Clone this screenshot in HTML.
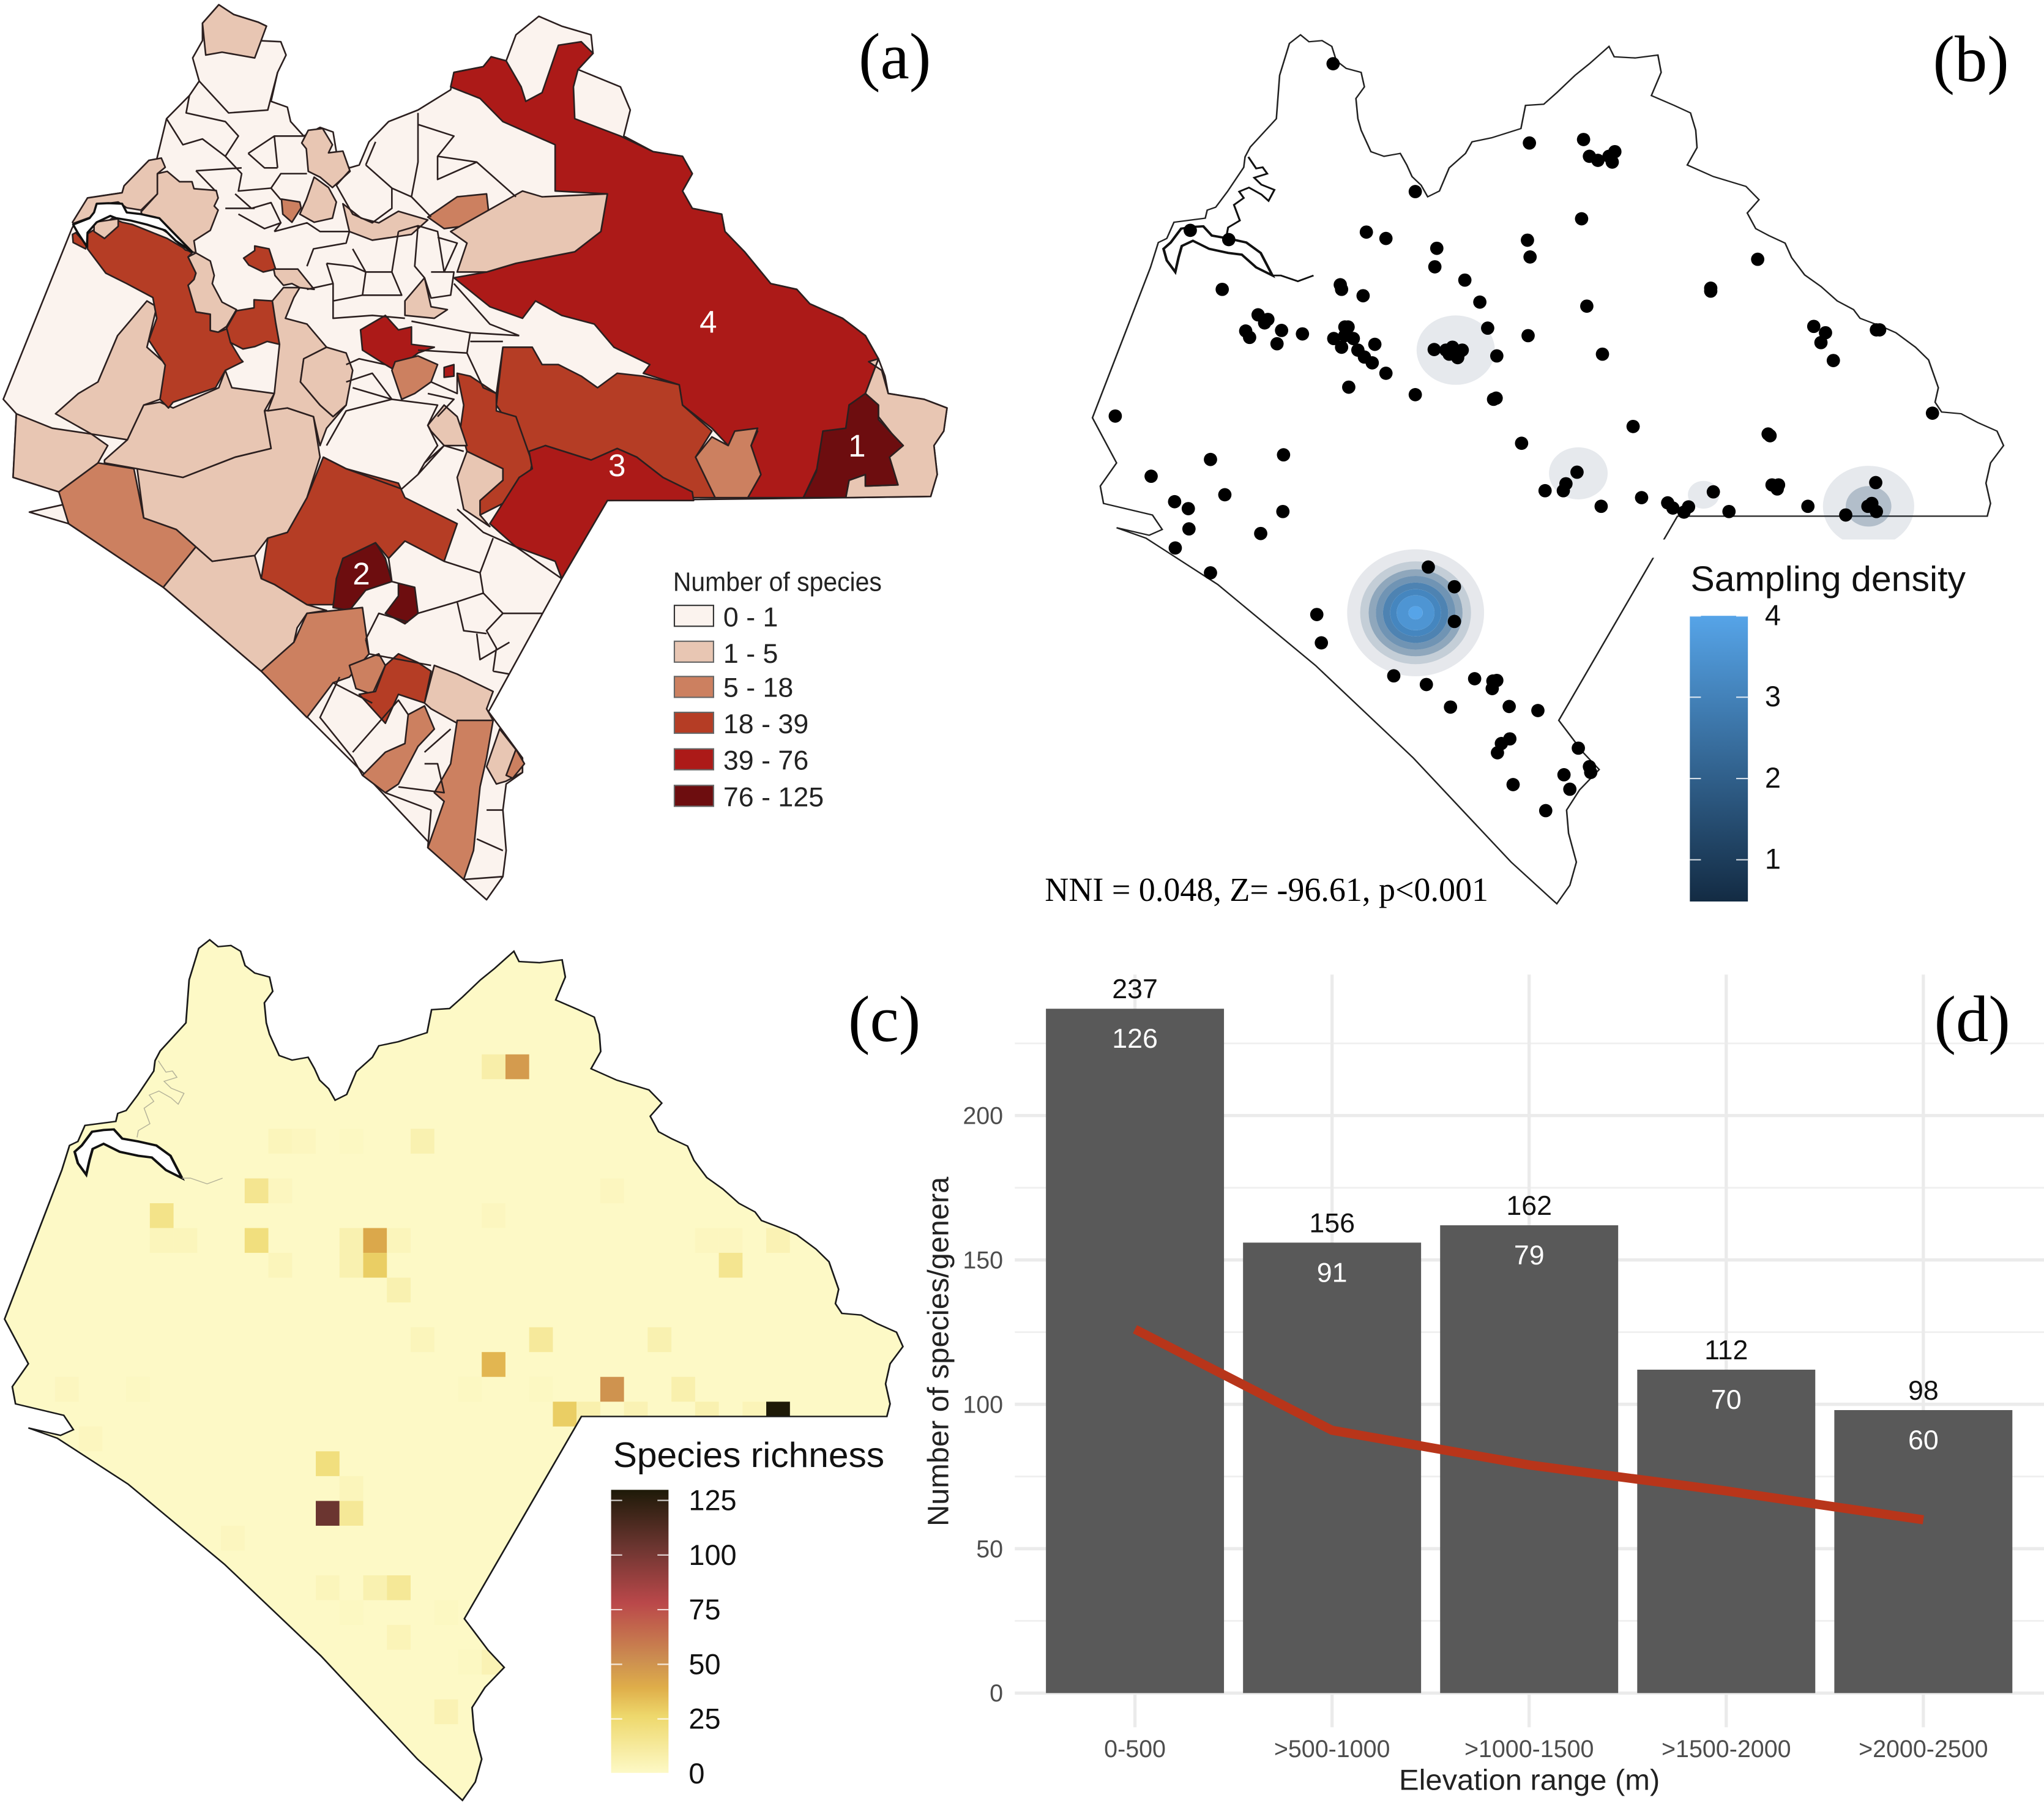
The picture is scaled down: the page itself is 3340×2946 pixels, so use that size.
<!DOCTYPE html>
<html lang="en">
<head>
<meta charset="utf-8">
<title>Species sampling maps and elevation chart</title>
<style>
html,body{margin:0;padding:0;background:#fff;width:3340px;height:2946px;overflow:hidden}
svg{display:block}
text{font-family:"Liberation Sans",sans-serif}
.serif{font-family:"Liberation Serif",serif;fill:#000}
.m polygon,.m path{stroke:#2b1f1f;stroke-width:2.6;vector-effect:non-scaling-stroke;stroke-linejoin:round}
.c0{fill:#fbf3ee}.c1{fill:#e8c6b3}.c2{fill:#cc8060}.c3{fill:#b53d25}.c4{fill:#ac1a18}.c5{fill:#6d0d0f}
</style>
</head>
<body>
<svg xmlns="http://www.w3.org/2000/svg" width="3340" height="2946" viewBox="0 0 1567 1382">
<defs>
<path id="state" d="M427,60 L440,72 L460,70 L475,80 L482,105 L497,118 L520,125 L525,150 L512,170 L515,205 L520,225 L535,262 L555,270 L580,265 L590,285 L598,305 L612,320 L622,340 L640,330 L655,290 L680,265 L690,245 L720,238 L765,222 L772,182 L800,180 L820,160 L848,130 L870,110 L900,80 L908,98 L940,100 L975,95 L980,125 L965,165 L1000,182 L1025,195 L1033,225 L1035,255 L1020,285 L1060,305 L1110,322 L1130,345 L1112,368 L1125,395 L1145,407 L1170,420 L1180,445 L1200,475 L1225,495 L1250,520 L1275,535 L1285,550 L1320,565 L1340,575 L1370,600 L1390,622 L1405,670 L1400,695 L1410,712 L1440,715 L1465,730 L1495,745 L1505,770 L1485,800 L1478,835 L1485,870 L1480,892 L1005,892 L823,1245 L860,1300 L885,1330 L855,1365 L835,1400 L838,1440 L850,1490 L840,1530 L820,1562 L750,1490 L600,1310 L450,1150 L300,1010 L190,930 L145,912 L195,925 L215,915 L200,890 L125,870 L120,840 L145,800 L108,722 L197,462 L209,419 L222,412 L233,384 L281,377 L284,363 L297,358 L315,331 L340,289 L342,271 L350,254 L390,205 L395,130 L410,75 Z"/>
<path id="lagoon-band" d="M244,395 L262,392 L278,391 L291,407 L316,412 L344,419 L366,437 L384,476 L359,462 L337,440 L316,437 L287,430 L262,416 L245,425 L240,445 L235,470 L222,450 L217,430 L228,419 Z"/>
<path id="lagoon-upper" d="M347,271 L359,291 L369,289 L376,300 L356,307 L367,319 L387,328 L378,347 L367,336 L348,324 L333,331 L340,342 L325,354 L334,381 L316,393 L314,405 M384,476 L397,476 L423,486 L447,476"/>
<clipPath id="state-clip"><use href="#state" transform="translate(-49.74,694) scale(.493,.4392)"/></clipPath>
<linearGradient id="density-gradient" x1="0" y1="1" x2="0" y2="0">
<stop offset="0" stop-color="#132b43"/><stop offset="1" stop-color="#56a4e8"/>
</linearGradient>
<linearGradient id="richness-gradient" x1="0" y1="1" x2="0" y2="0">
<stop offset="0" stop-color="#fdf9c6"/><stop offset=".2" stop-color="#eed86c"/><stop offset=".3" stop-color="#dfae4a"/><stop offset=".4" stop-color="#cc8e50"/><stop offset=".6" stop-color="#ba484a"/><stop offset=".8" stop-color="#6b3530"/><stop offset="1" stop-color="#1e1a08"/>
</linearGradient>
</defs>
<rect width="1567" height="1382" fill="#fff"/>

<!-- PANEL A -->
<g class="m" transform="scale(.5007,.4435)">
<polygon class="c0" points="335,8 358,25 395,38 408,45 395,70 430,72 438,95 425,125 420,150 415,175 440,185 445,210 465,235 490,220 510,228 515,262 535,290 550,285 565,245 595,210 640,190 690,155 695,125 740,115 752,98 775,105 790,60 825,28 860,45 905,60 908,92 885,120 950,150 965,190 955,235 1000,262 1045,270 1060,300 1045,330 1060,360 1105,370 1110,400 1140,435 1180,490 1220,500 1240,525 1290,550 1325,580 1345,620 1355,650 1360,680 1415,690 1450,705 1445,745 1430,770 1435,820 1425,858 1300,860 930,865 860,1000 748,1230 800,1310 800,1335 775,1355 770,1400 775,1470 770,1515 745,1555 710,1520 560,1340 400,1160 250,1015 105,905 45,885 105,870 90,850 20,825 25,715 5,690 110,395 134,342 187,333 190,321 228,277 240,275 255,205 290,165 305,140 295,100 310,70 310,40"/>
<polygon class="c4" points="690,150 695,125 740,115 752,98 775,105 798,150 805,175 830,160 855,78 890,72 908,92 885,120 878,150 880,205 950,235 1000,262 1045,270 1060,300 1045,330 1060,360 1105,370 1110,400 1140,435 1180,490 1220,500 1240,525 1290,550 1325,580 1345,620 1325,680 1300,700 1300,740 1260,745 1255,800 1230,860 1145,860 1165,820 1150,770 1160,745 1140,770 1115,770 1090,740 1045,700 1040,665 985,645 995,630 940,600 910,560 860,545 820,520 800,550 750,530 695,480 745,470 790,455 880,435 920,400 930,335 850,330 850,250 770,210 735,170"/>
<polygon class="c3" points="770,600 815,600 830,630 855,630 890,650 915,670 945,645 985,650 1040,665 1045,700 1090,745 1065,790 1095,860 1060,860 1015,825 975,790 945,775 905,795 835,770 810,785 760,700"/>
<polygon class="c3" points="700,645 720,650 760,680 760,710 790,720 815,800 810,825 795,825 770,870 735,890 733,865 770,830 770,810 715,780 705,740 710,700"/>
<polygon class="c4" points="810,780 835,770 905,795 945,775 975,790 1015,825 1060,850 1062,865 930,865 860,1000 850,970 790,945 750,905 795,825 815,810"/>
<polygon class="c2" points="1065,790 1090,755 1115,770 1125,745 1160,740 1150,770 1165,820 1145,860 1095,860"/>
<polygon class="c1" points="1330,625 1350,640 1360,680 1415,690 1450,705 1445,745 1430,770 1435,820 1425,858 1295,860 1300,830 1325,820 1325,840 1372,838 1360,790 1380,770 1345,720 1345,700 1325,680 1345,620"/>
<polygon class="c5" points="1230,860 1250,815 1260,745 1295,740 1300,700 1325,680 1345,700 1345,725 1383,770 1362,790 1375,838 1325,840 1325,820 1300,830 1295,860"/>
<polygon class="c3" points="495,790 530,810 610,835 620,860 700,905 680,970 620,935 595,965 575,938 525,965 510,1045 470,1045 420,1010 400,1000 410,930 440,920 470,860"/>
<polygon class="c5" points="510,1050 515,1000 525,965 575,938 590,965 600,1005 560,1020 535,1055"/>
<polygon class="c5" points="610,1008 635,1015 640,1060 620,1078 590,1060 610,1030"/>
<polygon class="c2" points="90,850 150,800 205,810 220,895 270,915 300,945 250,1015 105,905"/>
<polygon class="c1" points="250,1015 300,945 325,970 390,960 400,1000 420,1010 470,1045 500,1055 470,1060 455,1085 450,1110 400,1160"/>
<polygon class="c2" points="400,1160 450,1110 470,1060 555,1050 565,1130 535,1170 510,1180 470,1240"/>
<polygon class="c1" points="210,810 280,825 360,790 415,775 405,710 440,705 480,720 490,790 470,860 440,920 410,930 390,960 325,970 300,945 270,915 220,895"/>
<polygon class="c1" points="160,795 195,760 220,700 245,695 265,705 335,670 345,640 355,670 420,680 405,710 415,775 360,790 280,825 210,810 160,800"/>
<polygon class="c1" points="20,825 25,715 80,740 140,750 165,770 150,800 90,850"/>
<polygon class="c1" points="85,715 120,680 150,660 180,580 225,520 240,530 225,600 255,630 245,690 220,700 195,760 140,750"/>
<polygon class="c3" points="134,404 172,377 187,384 203,388 225,398 256,412 294,437 288,444 300,472 297,483 288,493 300,539 322,543 322,571 334,574 350,567 353,592 368,620 372,625 345,640 330,670 265,695 258,705 245,690 253,631 228,588 240,550 234,514 194,490 162,472 134,430"/>
<polygon class="c3" points="111,405 116,402 133,423 131,430 112,419"/>
<polygon class="c3" points="389,518 417,520 422,557 428,595 409,590 390,599 372,603 353,592 347,567 362,537 389,532"/>
<polygon class="c3" points="390,425 412,430 422,465 403,470 381,458 373,446 390,433"/>
<polygon class="c1" points="300,437 322,451 328,476 325,490 340,522 362,535 347,564 334,574 322,571 322,543 300,539 288,493 297,483 300,472 288,444"/>
<polygon class="c1" points="417,520 434,497 459,497 450,514 437,550 470,560 500,600 465,620 460,660 490,700 510,720 530,700 500,740 490,770 480,720 440,705 410,710 420,680 428,595 422,557"/>
<polygon class="c1" points="465,620 500,600 530,610 540,640 530,700 510,720 490,700 460,660"/>
<polygon class="c1" points="419,465 456,465 481,500 459,497 447,490 434,493 421,476"/>
<polygon class="c1" points="111,384 134,342 187,333 190,321 228,277 247,273 253,289 241,300 241,335 216,363 194,359 181,349 148,354 144,373 112,386"/>
<polygon class="c1" points="216,366 241,335 241,300 256,296 275,314 294,314 297,326 331,329 334,342 328,356 334,363 322,398 297,416 300,437 284,432 256,402 219,375"/>
<polygon class="c1" points="144,384 181,378 181,391 160,412 144,400"/>
<polygon class="c1" points="335,8 358,25 395,38 408,45 390,100 340,90 315,95 310,40"/>
<polygon class="c1" points="472,225 494,222 509,250 503,264 525,261 536,296 509,324 490,306 472,296 469,257 462,247"/>
<polygon class="c1" points="481,306 503,324 515,349 509,377 481,384 459,370 469,345"/>
<polygon class="c2" points="431,344 459,349 461,359 447,384 433,370"/>
<polygon class="c1" points="525,352 553,377 580,385 610,365 655,380 630,405 570,415 535,400"/>
<polygon class="c2" points="655,375 700,340 745,335 748,365 715,390 680,395"/>
<polygon class="c1" points="690,400 745,365 800,330 830,340 930,335 920,400 880,435 790,455 745,470 700,470 715,420"/>
<polygon class="c1" points="620,520 650,480 660,530 685,535 665,550 620,545"/>
<polygon class="c4" points="552,570 590,545 610,570 630,565 630,595 665,600 640,610 605,640 590,630 555,605"/>
<polygon class="c4" points="680,635 695,630 695,650 680,652"/>
<polygon class="c2" points="605,625 640,615 670,630 660,660 635,680 615,690 600,640"/>
<polygon class="c1" points="655,735 680,700 700,720 715,770 680,770 660,745"/>
<polygon class="c1" points="715,780 770,810 770,830 735,865 735,890 750,910 710,880 700,825"/>
<polygon class="c2" points="535,1150 580,1130 590,1150 570,1200 545,1190"/>
<polygon class="c3" points="590,1150 610,1130 640,1145 660,1160 650,1215 610,1200 590,1250 550,1200 575,1195"/>
<polygon class="c1" points="665,1150 700,1165 755,1195 745,1225 755,1245 700,1250 660,1225 650,1215"/>
<polygon class="c2" points="625,1235 650,1220 665,1260 640,1290 610,1355 590,1370 555,1340 590,1300 620,1285"/>
<polygon class="c2" points="700,1245 755,1245 745,1310 735,1360 725,1470 710,1520 655,1465 680,1385 665,1370 690,1320"/>
<polygon class="c1" points="765,1260 800,1310 800,1335 775,1350 760,1355 745,1325"/>
<polygon class="c2" points="790,1295 803,1320 785,1345 775,1340"/>
<path fill="none" d="M305,140 L350,195 L410,190 L425,125 M290,165 L285,195 L345,210 L365,235 L345,270 L370,300 L365,330 L415,325 L430,300 L470,300 M255,205 L280,250 L310,240 L345,270 M300,295 L370,290 M300,295 L330,330 M380,265 L420,235 L465,235 M420,235 L425,290 M380,265 L405,290 L425,290 M415,325 L430,345 M360,335 L385,360 L415,350 L430,385 L420,400 M345,360 L390,360 M365,370 L405,395 L430,385 M420,400 L470,385 L490,400 L535,400 L530,420 L480,430 L470,460 M535,295 L515,320 L540,370 L570,385 L600,360 L600,325 L560,285 M575,245 L560,285 M600,325 L630,340 L640,280 L640,195 M640,215 L695,235 L670,270 L670,310 L730,280 L790,340 M630,340 L660,375 M670,270 L730,280 M610,400 L640,390 L670,400 L680,470 L700,420 L670,410 M640,390 L635,460 L650,480 M610,400 L600,470 L560,470 L540,430 M500,455 L540,460 L560,470 L555,510 L510,520 L510,490 L500,455 M600,470 L615,510 L555,510 M660,470 L695,470 L690,510 L660,515 L650,480 M470,500 L510,490 M510,520 L510,550 L570,545 L620,550 M630,555 L720,575 L715,610 L640,605 M720,575 L795,580 M695,490 L750,560 L795,580 M715,610 L740,670 L760,680 L770,600 M720,590 L770,590 M530,630 L550,620 L590,630 M530,660 L570,645 L600,690 L540,670 M660,660 L700,680 L700,645 M655,680 L695,690 L670,720 M500,770 L530,710 L600,690 L670,700 L655,735 L670,770 L650,800 L640,820 L615,845 L530,810 L495,790 M680,770 L640,820 M710,780 L680,770 L650,800 M700,880 L740,920 L760,930 L790,945 L860,1000 M620,935 L595,965 L600,1005 M680,970 L735,990 L755,930 M735,990 L740,1025 L700,1040 L640,1060 M600,1005 L610,1008 M740,1025 L770,1060 L745,1090 L760,1120 L755,1160 M700,1040 L710,1090 L745,1095 M770,1060 L830,1060 M560,1105 L580,1060 L625,1075 M560,1105 L565,1130 L660,1150 M730,1095 L735,1140 L780,1110 M755,1160 L780,1165 M520,1170 L490,1240 L540,1310 L555,1340 M510,1180 L570,1215 M540,1300 L610,1210 L625,1235 M650,1300 L690,1260 M610,1360 L680,1370 L670,1320 L650,1320 M590,1370 L660,1400 L655,1465 M745,1400 L770,1400 M730,1450 L770,1470 M710,1520 L770,1515"/>
<polygon fill="#fff" style="stroke-width:3.5;stroke:#111" points="144,367 148,352 166,351 187,352 194,367 216,370 244,377 262,398 294,435 269,416 253,398 225,388 200,381 178,377 169,373 148,384 134,402 133,426 119,402 112,388 137,377"/>
</g>
<g fill="#fff" font-size="24" text-anchor="middle">
<text x="543" y="255">4</text>
<text x="657" y="350">1</text>
<text x="473" y="365">3</text>
<text x="277" y="448">2</text>
</g>
<text class="serif" x="686" y="60" font-size="50" text-anchor="middle">(a)</text>
<g fill="#222" font-size="21">
<text x="516" y="453" font-size="20.5" textLength="160" lengthAdjust="spacingAndGlyphs">Number of species</text>
<rect x="517" y="464" width="30" height="16" fill="#fbf3ee" stroke="#333"/>
<text x="554.500" y="480">0 - 1</text>
<rect x="517" y="491.500" width="30" height="16" fill="#e8c6b3" stroke="#666"/>
<text x="554.500" y="508">1 - 5</text>
<rect x="517" y="518.500" width="30" height="16" fill="#cc8060" stroke="#666"/>
<text x="554.500" y="534">5 - 18</text>
<rect x="517" y="546" width="30" height="16" fill="#b53d25" stroke="#666"/>
<text x="554.500" y="562">18 - 39</text>
<rect x="517" y="574" width="30" height="16" fill="#ac1a18" stroke="#666"/>
<text x="554.500" y="590">39 - 76</text>
<rect x="517" y="602" width="30" height="16" fill="#6d0d0f" stroke="#666"/>
<text x="554.500" y="618">76 - 125</text>
</g>

<!-- PANEL B -->
<g transform="translate(783.5,0) scale(.5,.4435)">
<use href="#state" fill="#fff" stroke="#222" stroke-width="2.4" vector-effect="non-scaling-stroke"/>
<use href="#lagoon-band" fill="#fff" stroke="#111" stroke-width="4" vector-effect="non-scaling-stroke"/>
<use href="#lagoon-upper" fill="none" stroke="#111" stroke-width="3" vector-effect="non-scaling-stroke"/>
</g>
<g id="density-blobs"></g>
<g id="sample-dots"></g>
<rect x="1262" y="413.500" width="240" height="14" fill="#fff"/>
<text class="serif" x="1511" y="62" font-size="50" text-anchor="middle">(b)</text>
<text class="serif" x="801" y="690.500" font-size="26" textLength="340" lengthAdjust="spacingAndGlyphs" fill="#111">NNI = 0.048, Z= -96.61, p&lt;0.001</text>
<text x="1296" y="453" font-size="27" fill="#111" textLength="211" lengthAdjust="spacingAndGlyphs">Sampling density</text>
<rect x="1295.500" y="472" width="44.500" height="219" fill="url(#density-gradient)"/>
<g id="density-legend"></g>

<!-- PANEL C -->
<use href="#state" transform="translate(-49.74,694) scale(.493,.4392)" fill="#fdf9c6"/>
<g id="richness-cells" clip-path="url(#state-clip)"></g>
<g transform="translate(-49.74,694) scale(.493,.4392)">
<use href="#state" fill="none" stroke="#1a1a1a" stroke-width="2.6" vector-effect="non-scaling-stroke"/>
<use href="#lagoon-band" fill="#fff" stroke="#111" stroke-width="4" vector-effect="non-scaling-stroke"/>
<use href="#lagoon-upper" fill="none" stroke="#b5b39a" stroke-width="1.5" vector-effect="non-scaling-stroke"/>
</g>
<text class="serif" x="678" y="798" font-size="50" text-anchor="middle">(c)</text>
<text x="470" y="1124.500" font-size="27" fill="#111" textLength="208" lengthAdjust="spacingAndGlyphs">Species richness</text>
<rect x="468.500" y="1142" width="44" height="217" fill="url(#richness-gradient)"/>
<g id="richness-legend"></g>

<!-- PANEL D -->
<g id="elevation-grid"></g>
<g id="elevation-bars"></g>
<polyline id="genera-line" fill="none" stroke="#b8351a" stroke-width="7"/>
<g id="elevation-labels"></g>
<text class="serif" x="1512" y="798" font-size="50" text-anchor="middle">(d)</text>
<text x="1172.500" y="1372" font-size="22" fill="#222" text-anchor="middle" textLength="200" lengthAdjust="spacingAndGlyphs">Elevation range (m)</text>
<text transform="translate(727,1036) rotate(-90)" font-size="22.500" fill="#222" text-anchor="middle" textLength="268" lengthAdjust="spacingAndGlyphs">Number of species/genera</text>
</svg>

<script>
var siteEasting = [477,778,861,870,883,905,909,900,603,858,775,779,528,558,636,633,679,702,714,776,866,890,728,1128,1056,1056,1214,1232,1225,1244,1310,1315,1396,1144,1147,937,766,723,727,603,501,558,537,525,515,508,495,500,488,490,523,307,362,377,372,398,430,343,349,391,478,490,495,541,632,650,660,655,670,675,668,143,289,401,198,234,255,311,400,256,366,235,289,258,317,851,802,830,834,888,950,990,998,1015,1022,1060,1084,1150,1160,1158,1205,1263,1297,1303,1310,1309,623,663,663,452,459,570,620,694,722,728,721,657,747,791,748,735,729,853,870,872,831,840,753,803];
var siteSouthing = [110,247,241,270,277,280,262,270,331,378,415,444,401,412,429,461,484,522,567,580,529,612,615,448,498,503,564,575,592,623,570,570,714,750,753,737,766,690,688,682,669,645,627,617,605,585,565,565,492,500,511,500,544,552,558,571,577,572,583,594,585,600,580,595,604,605,600,612,610,605,618,719,794,786,823,867,879,855,884,914,922,947,990,398,414,816,848,848,836,875,860,869,878,885,876,850,884,838,838,845,875,890,875,870,884,834,980,1014,1074,1062,1111,1168,1183,1173,1177,1176,1190,1222,1221,1228,1277,1285,1301,1293,1325,1335,1339,1364,1356,1401];

var blobEasting = [665,853,1298,1298,1045];
var blobSouthing = [605,818,875,875,855];
var blobRadius = [60,45,70,35,24];
var blobDensity = [0.5,0.5,0.5,1,0.5];
var hotspotRadii = [105,85,72,61,50,39,29,11];
var hotspotDensity = [0.5,1,1.5,2,2.5,3,3.5,4];

var densityTicks = [1,2,3,4];
var richnessTicks = [0,25,50,75,100,125];

var cellCols = [20,21,11,12,14,17,10,11,25,6,20,6,7,10,14,15,16,29,30,32,11,14,15,30,16,17,22,27,20,2,5,19,22,25,28,23,24,26,29,31,32,3,13,14,13,14,9,13,15,16,14,18,16,19,20,18];
var cellRows = [0,0,3,3,3,3,5,5,5,6,6,7,7,7,7,7,7,7,7,7,8,8,8,8,9,11,11,11,12,13,13,13,13,13,13,14,14,14,14,14,14,15,16,17,18,18,19,21,21,21,22,22,23,24,24,26];
var cellRichness = [8,45,3,2,1,6,15,2,2,17,2,3,3,20,6,40,3,2,2,5,3,6,28,15,6,3,12,6,35,2,1,1,1,48,7,28,7,5,6,4,125,2,20,3,100,13,2,3,6,13,1,1,4,1,5,5];

var elevationBands = ['0-500','>500-1000','>1000-1500','>1500-2000','>2000-2500'];
var speciesCounts = [237,156,162,112,98];
var generaCounts = [126,91,79,70,60];
var yTickValues = [0,50,100,150,200];
var yMinorValues = [25,75,125,175,225];

var NS = 'http://www.w3.org/2000/svg';
function make(parent, tag, attrs, content) {
  var el = document.createElementNS(NS, tag);
  for (var k in attrs) el.setAttribute(k, attrs[k]);
  if (content !== undefined) el.textContent = content;
  parent.appendChild(el);
  return el;
}
function mapBX(e) { return 783.5 + e * 0.5; }
function mapBY(s) { return s * 0.4435; }
function cellX(c) { return (11.65 + 36.35 * c) * 0.5; }
function cellY(r) { return 694 + (260 + 43.3 * r) * 0.4392; }
function mix(a, b, t) {
  var out = [];
  for (var i = 0; i < 3; i++) out.push(Math.round(a[i] + (b[i] - a[i]) * t));
  return 'rgb(' + out.join(',') + ')';
}
var richStops = [[0,[253,249,198]],[25,[238,216,108]],[37.5,[223,174,74]],[50,[204,142,80]],[75,[186,72,74]],[100,[107,53,48]],[125,[30,26,8]]];
function richColor(v) {
  for (var i = 1; i < richStops.length; i++) {
    if (v <= richStops[i][0]) {
      var a = richStops[i - 1], b = richStops[i];
      return mix(a[1], b[1], (v - a[0]) / (b[0] - a[0]));
    }
  }
  return 'rgb(30,26,8)';
}
function densityColor(v) {
  return mix([19,43,67], [86,164,232], v / 4);
}
function densityAlpha(v) {
  if (v <= 0.5) return 0.11;
  if (v <= 1) return 0.27;
  if (v <= 1.5) return 0.53;
  if (v <= 2) return 0.71;
  if (v <= 2.5) return 0.91;
  return 1;
}

/* Panel b: kernel density blobs */
var blobs = document.getElementById('density-blobs');
blobEasting.forEach(function (e, i) {
  var el = make(blobs, 'ellipse', {
    cx: mapBX(e), cy: mapBY(blobSouthing[i]),
    rx: blobRadius[i] * 0.5, ry: blobRadius[i] * 0.4435,
    fill: densityColor(blobDensity[i]), 'fill-opacity': densityAlpha(blobDensity[i])
  });
  
  
});
hotspotRadii.forEach(function (r, i) {
  var el = make(blobs, 'ellipse', {
    cx: mapBX(603.5), cy: mapBY(1059),
    rx: r * 0.5, ry: r * 0.4635,
    fill: i === 0 ? '#e6e8ec' : '#fff'
  });
  
  
  var ring = make(blobs, 'ellipse', {
    cx: mapBX(603.5), cy: mapBY(1059),
    rx: r * 0.5, ry: r * 0.4635,
    fill: densityColor(hotspotDensity[i]), 'fill-opacity': i === 0 ? 0 : densityAlpha(hotspotDensity[i])
  });
  
  
});

/* Panel b: sampling sites */
var dots = document.getElementById('sample-dots');
siteEasting.forEach(function (e, i) {
  var el = make(dots, 'circle', { cx: mapBX(e), cy: mapBY(siteSouthing[i]), r: 5.1, fill: '#000' });
  
  
});

/* Panel b: colour bar ticks */
var dl = document.getElementById('density-legend');
function densityY(v) { return 659 - (v - 1) * 62.3; }
densityTicks.forEach(function (v) {
  var y = densityY(v);
  var t1 = make(dl, 'line', { x1: 1295.5, x2: 1304, y1: y, y2: y, stroke: '#fff', 'stroke-opacity': 0.8 });
  
  
  var t2 = make(dl, 'line', { x1: 1331, x2: 1340, y1: y, y2: y, stroke: '#fff', 'stroke-opacity': 0.8 });
  
  
  var lab = make(dl, 'text', { x: 1353, y: y + 7, 'font-size': 22, fill: '#111' }, String(v));
  
  
});

/* Panel c: richness grid */
var cells = document.getElementById('richness-cells');
cellCols.forEach(function (c, i) {
  var el = make(cells, 'rect', {
    x: cellX(c), y: cellY(cellRows[i]),
    width: 36.35 * 0.5, height: 43.3 * 0.4392,
    fill: richColor(cellRichness[i])
  });
  
  
});

/* Panel c: colour bar ticks */
var rl = document.getElementById('richness-legend');
function richnessY(v) { return 1359.5 - v * 1.675; }
richnessTicks.forEach(function (v) {
  var y = richnessY(v);
  var t1 = make(rl, 'line', { x1: 468.5, x2: 477, y1: y, y2: y, stroke: '#fff', 'stroke-opacity': 0.8 });
  
  
  var t2 = make(rl, 'line', { x1: 504, x2: 512.5, y1: y, y2: y, stroke: '#fff', 'stroke-opacity': 0.8 });
  
  
  var lab = make(rl, 'text', { x: 528, y: y + 7.5, 'font-size': 22, fill: '#111' }, String(v));
  
  
});

/* Panel d: bar chart */
function barX(i) { return 870.1 + i * 151.1; }
function valueY(v) { return 1297.8 - v * 2.2135; }
var BAR_W = 136.5;
var grid = document.getElementById('elevation-grid');
yMinorValues.forEach(function (v) {
  var el = make(grid, 'line', { x1: 778, x2: 1567, y1: valueY(v), y2: valueY(v), stroke: '#efefef', 'stroke-width': 1.3 });
  
  
});
yTickValues.forEach(function (v) {
  var el = make(grid, 'line', { x1: 778, x2: 1567, y1: valueY(v), y2: valueY(v), stroke: '#ebebeb', 'stroke-width': 2.5 });
  
  
  var lab = make(grid, 'text', { x: 769, y: valueY(v) + 6.5, 'font-size': 18.5, fill: '#4d4d4d', 'text-anchor': 'end' }, String(v));
  
  
});
elevationBands.forEach(function (b, i) {
  var el = make(grid, 'line', { x1: barX(i), x2: barX(i), y1: 747, y2: 1324, stroke: '#ebebeb', 'stroke-width': 2.5 });
  
  
  var lab = make(grid, 'text', { x: barX(i), y: 1347, 'font-size': 18.5, fill: '#4d4d4d', 'text-anchor': 'middle' }, b);
  
  
});
var bars = document.getElementById('elevation-bars');
speciesCounts.forEach(function (v, i) {
  var el = make(bars, 'rect', {
    x: barX(i) - BAR_W / 2, y: valueY(v), width: BAR_W,
    height: valueY(0) - valueY(v), fill: '#595959'
  });
  
  
});
document.getElementById('genera-line').setAttribute('points', generaCounts.map(function (v, i) {
  return barX(i) + ',' + valueY(v);
}).join(' '));
var labels = document.getElementById('elevation-labels');
speciesCounts.forEach(function (v, i) {
  var top = make(labels, 'text', { x: barX(i), y: valueY(v) - 8, 'font-size': 21, fill: '#111', 'text-anchor': 'middle' }, String(v));
  
  
  var inner = make(labels, 'text', { x: barX(i), y: valueY(v) + 30, 'font-size': 21, fill: '#fff', 'text-anchor': 'middle' }, String(generaCounts[i]));
  
  
});
</script>
</body>
</html>
